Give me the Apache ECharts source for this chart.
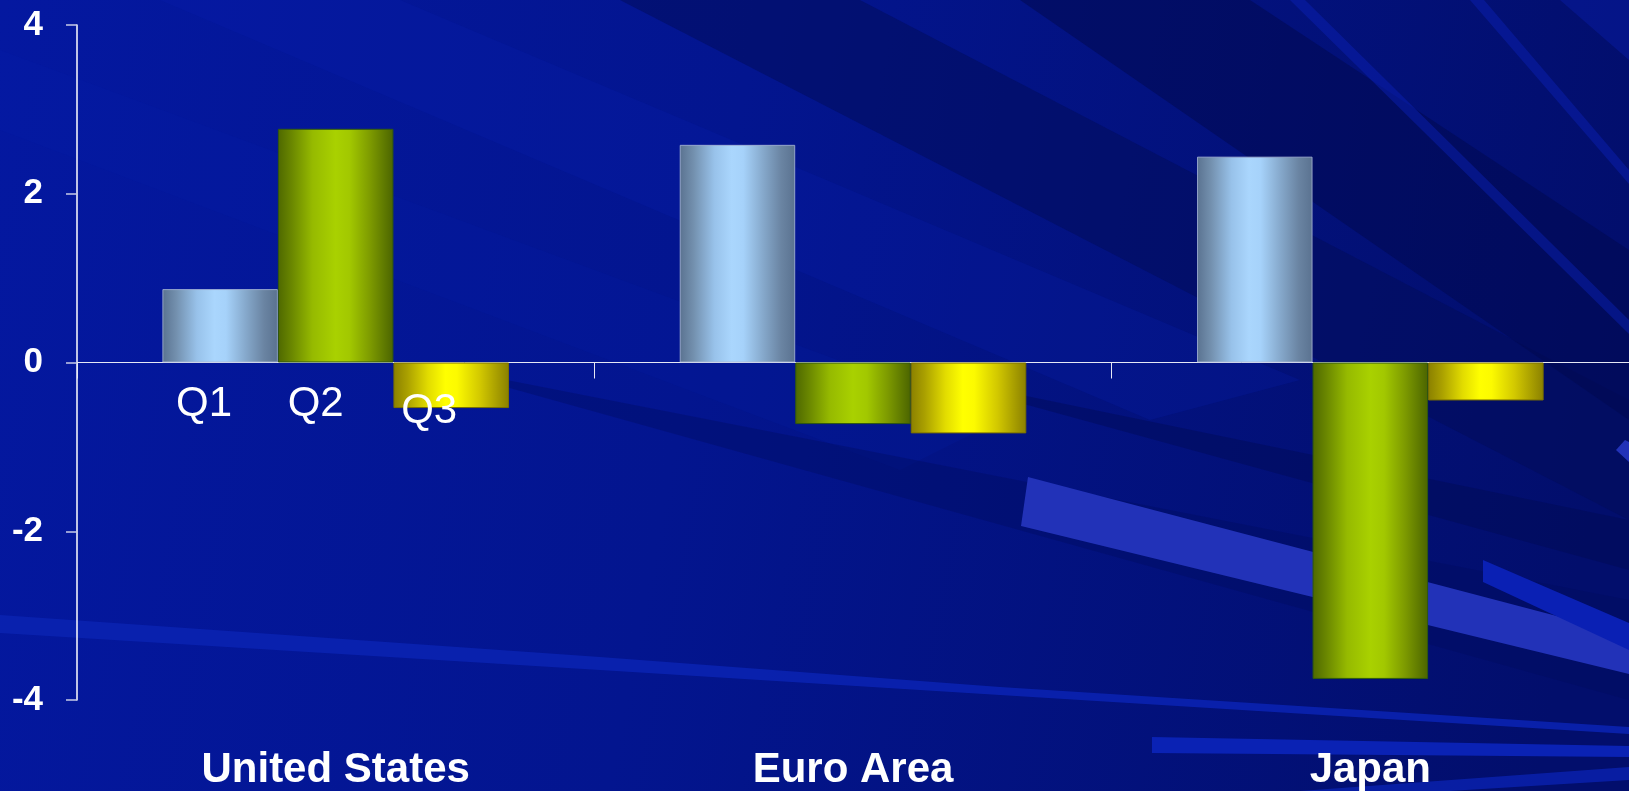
<!DOCTYPE html>
<html>
<head>
<meta charset="utf-8">
<script src="https://cdn.jsdelivr.net/npm/echarts@6/dist/echarts.min.js"></script>
<style>
html,body{margin:0;padding:0;background:#03168f;}
#chart{width:1629px;height:791px;}
</style>
</head>
<body>
<div id="chart"></div>
<script>
// ---- data ----
const categories = ['United States', 'Euro Area', 'Japan'];
const seriesNames = ['Q1', 'Q2', 'Q3'];
const q1Values = [0.87, 2.58, 2.44];
const q2Values = [2.77, -0.73, -3.75];
const q3Values = [-0.54, -0.84, -0.45];
const yMin = -4, yMax = 4, yStep = 2;

// ---- styles ----
const FONT = '"Liberation Sans", Arial, sans-serif';
function cyl(stops) {
  return { type: 'linear', x: 0, y: 0, x2: 1, y2: 0,
    colorStops: stops.map(s => ({ offset: s[0], color: s[1] })) };
}
const fills = [
  cyl([[0,'#5a7290'],[0.12,'#7390ae'],[0.3,'#98c2ea'],[0.45,'#aad6fd'],[0.55,'#a6d2fa'],[0.72,'#86a9cc'],[0.88,'#6a84a2'],[1,'#5a7290']]),
  cyl([[0,'#4e6800'],[0.12,'#6a8700'],[0.3,'#96ba00'],[0.5,'#a9d100'],[0.62,'#a2c800'],[0.8,'#7d9a00'],[1,'#4b6400']]),
  cyl([[0,'#8a8000'],[0.12,'#aaa000'],[0.3,'#e2dc00'],[0.45,'#ffff00'],[0.55,'#fcfa00'],[0.75,'#d2c800'],[1,'#8a8000']])
];
const borders = ['rgba(170,185,215,0.8)', '#2f5810', '#7a7000'];
// per-series label placement for the quarter labels under the first category
const qLabelOffsets = [[-16, 0], [-20, 0], [-22, -39]];

// ---- decorative background (not data) ----
function poly(points, fill, opacity) {
  return { type: 'polygon', silent: true, z: -50, shape: { points: points },
    style: { fill: fill, opacity: opacity == null ? 1 : opacity } };
}
const decor = [
  { type: 'rect', silent: true, z: -100, shape: { x: 0, y: 0, width: 1629, height: 791 },
    style: { fill: { type: 'linear', x: 0, y: 0, x2: 1, y2: 0.4,
      colorStops: [{ offset: 0, color: '#0418a0' }, { offset: 0.45, color: '#03158f' }, { offset: 1, color: '#020e6c' }] } } },
  // subtle lighter bands upper-left
  poly([[160,0],[400,0],[1300,380],[1150,420]], '#0a22b0', 0.22),
  poly([[0,50],[0,130],[900,470],[1000,420]], '#0a22b0', 0.15),
  // dark bands upper-right
  poly([[620,0],[860,0],[1629,400],[1629,520]], '#010b58', 0.5),
  poly([[1020,0],[1250,0],[1629,250],[1629,420]], '#010a50', 0.55),
  poly([[1290,0],[1305,0],[1629,320],[1629,334]], '#0a22b8', 0.45),
  poly([[1470,0],[1484,0],[1629,170],[1629,184]], '#0a22b8', 0.45),
  poly([[1560,0],[1629,0],[1629,60]], '#0a1fb0', 0.4),
  // dark rays lower-right (tapered, no hard edges)
  poly([[420,363],[1629,600],[1629,700]], '#010b5c', 0.35),
  poly([[900,370],[1629,520],[1629,570]], '#010a50', 0.4),
  // light wedges
  poly([[1028,477],[1021,526],[1629,674],[1629,635]], '#2232b8', 1),
  poly([[1483,560],[1483,582],[1629,650],[1629,623]], '#0a20b4', 1),
  poly([[1616,450],[1625,440],[1629,442],[1629,462]], '#2232b8', 1),
  // bottom stripes
  poly([[0,615],[600,657],[1000,687],[1629,727],[1629,734],[1000,695],[600,670],[0,633]], '#0a22b0', 0.9),
  poly([[1152,737],[1629,746],[1629,757],[1152,753]], '#0a22b4', 1),
  poly([[1300,791],[1629,767],[1629,780],[1450,791]], '#0a22b0', 0.8)
];

// ---- series ----
const valueLists = [q1Values, q2Values, q3Values];
const series = seriesNames.map((name, si) => ({
  name: name,
  type: 'bar',
  xAxisIndex: 0,
  barGap: '0%',
  barCategoryGap: '33%',
  itemStyle: { color: fills[si], borderColor: borders[si], borderWidth: 1 },
  data: valueLists[si].map((v, ci) => ci === 0 ? {
    value: v,
    label: { show: true, position: 'bottom', distance: 21, offset: qLabelOffsets[si],
      formatter: '{a}', color: '#ffffff', fontFamily: FONT, fontSize: 42, fontWeight: 'normal', lineHeight: 42 }
  } : { value: v })
}));

const chart = echarts.init(document.getElementById('chart'), null, { renderer: 'canvas' });
chart.setOption({
  backgroundColor: 'transparent',
  animation: false,
  graphic: decor,
  grid: { left: 77, right: 0, top: 25, bottom: 89, containLabel: false },
  xAxis: [
    { type: 'category', data: categories, position: 'bottom',
      axisLine: { show: false, onZero: false }, axisTick: { show: false },
      axisLabel: { interval: 0, margin: 49, color: '#ffffff', fontFamily: FONT,
        fontSize: 42, fontWeight: 'bold', lineHeight: 42 },
      splitLine: { show: false } },
    { type: 'category', data: categories, position: 'top',
      axisLine: { show: true, onZero: true, lineStyle: { color: '#e6e8f5', width: 1 } },
      axisTick: { show: true, inside: true, length: 16, lineStyle: { color: '#e6e8f5', width: 1 } },
      axisLabel: { show: false }, splitLine: { show: false } }
  ],
  yAxis: {
    type: 'value', min: yMin, max: yMax, interval: yStep,
    axisLine: { show: true, lineStyle: { color: '#ffffff', width: 1.5 } },
    axisTick: { show: true, length: 11, lineStyle: { color: '#c8cce8', width: 1.5 } },
    axisLabel: { margin: 34, color: '#ffffff', fontFamily: FONT, fontSize: 35, fontWeight: 'bold' },
    splitLine: { show: false }
  },
  series: series
});
</script>
</body>
</html>
